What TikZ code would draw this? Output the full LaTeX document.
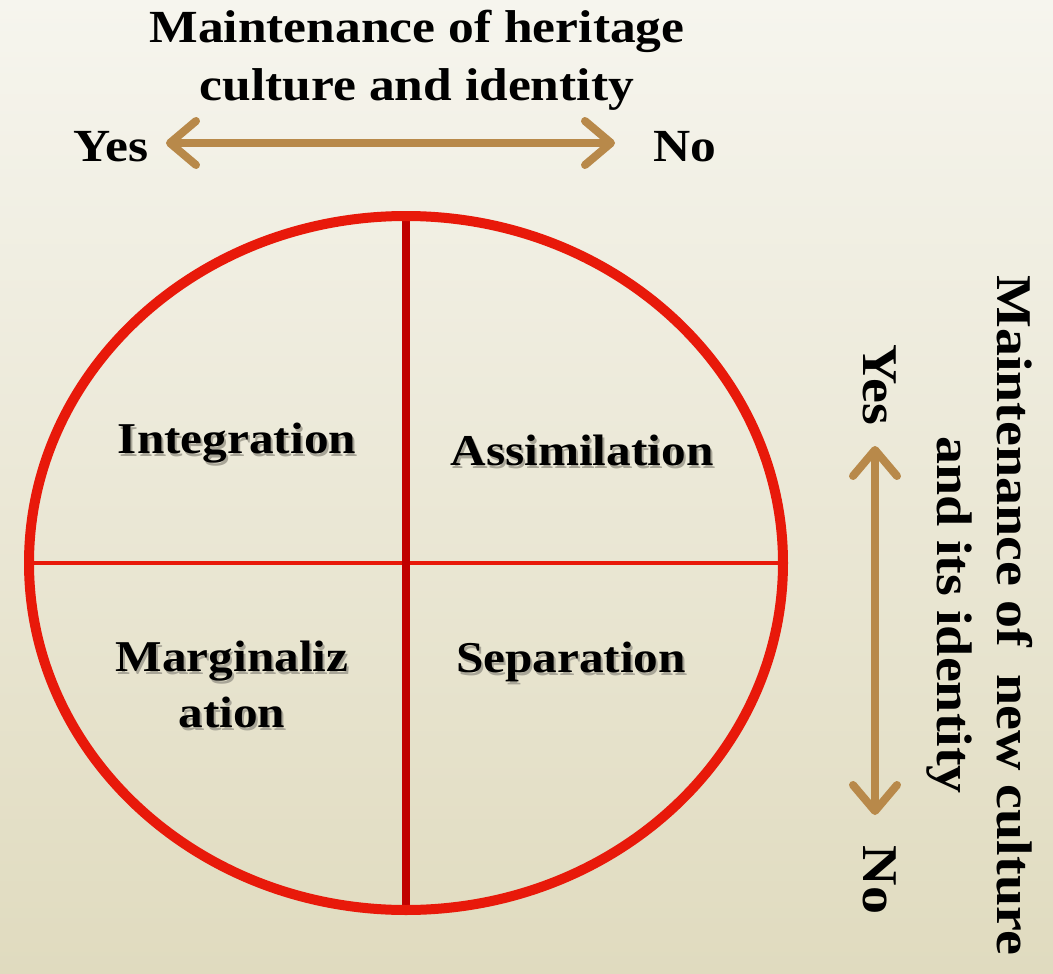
\documentclass[tikz,border=0pt]{standalone}
\usepackage{fontspec}
\setmainfont{Liberation Serif}[FakeStretch=1.12]
\usetikzlibrary{arrows.meta}
\definecolor{bgtop}{HTML}{F6F5EE}
\definecolor{bgbot}{HTML}{E0DBBF}
\definecolor{ringred}{HTML}{E8190A}
\definecolor{axisred}{HTML}{C00000}
\definecolor{tanc}{HTML}{B8894A}
\definecolor{shadowc}{HTML}{A8A597}
\newcommand\shtxt[1]{\leavevmode\rlap{\hspace{2pt}\raisebox{-3pt}{\textcolor{shadowc}{#1}}}#1}
\tikzset{
  lbl/.style={font=\bfseries\fontsize{46}{58}\selectfont, align=center, inner sep=0pt},
  rlbl/.style={font=\bfseries\fontsize{50}{60}\selectfont, align=center, inner sep=0pt, rotate=-90},
  quad/.style={font=\bfseries\fontsize{44}{56}\selectfont, align=center, inner sep=0pt},
  tanarrow/.style={draw=tanc, line width=8pt, {Straight Barb[length=26pt,width=44pt,round]}-{Straight Barb[length=26pt,width=44pt,round]}},
}
\begin{document}
\begin{tikzpicture}[x=1pt,y=-1pt]
\useasboundingbox (0,0) rectangle (1053,974);
\shade[top color=bgtop, bottom color=bgbot] (0,0) rectangle (1053,974);
% ring and axes
\coordinate (c) at (406,563);
\coordinate (vt) at (406,217);
\coordinate (vb) at (406,910);
\coordinate (hl) at (29,563);
\coordinate (hr) at (783,563);
\draw[ringred, line width=4pt] (hl) -- (hr);
\draw[axisred, line width=8pt, line cap=round] (vt) -- (vb);
\draw[ringred, line width=10pt] (c) ellipse [x radius=377, y radius=347];
% top title
\node[lbl] (toptitle) at (417,60) {Maintenance of heritage\\culture and identity};
\node[lbl] (yes1) at (111,147) {Yes};
\node[lbl] (no1) at (685,147) {No};
\coordinate (ha) at (166,143);
\coordinate (hb) at (615,143);
\draw[tanarrow] (ha) -- (hb);
% quadrant labels
\node[quad] (integ) at (237,445) {\shtxt{Integration}};
\node[quad] (assim) at (582,452) {\shtxt{Assimilation}};
\node[quad] (margin) at (232,686) {\shtxt{Marginaliz}\\\shtxt{ation}};
\node[quad] (separ) at (571,663) {\shtxt{Separation}};
% right title
\node[rlbl] (righttitle) at (980,615) {Maintenance of\hspace{0.55em}new culture\\and its identity};
\node[rlbl] (yes2) at (880,385) {Yes};
\node[rlbl] (no2) at (880,880) {No};
\coordinate (va) at (875,446);
\coordinate (vb2) at (875,815);
\draw[tanarrow] (va) -- (vb2);
\end{tikzpicture}
\end{document}
